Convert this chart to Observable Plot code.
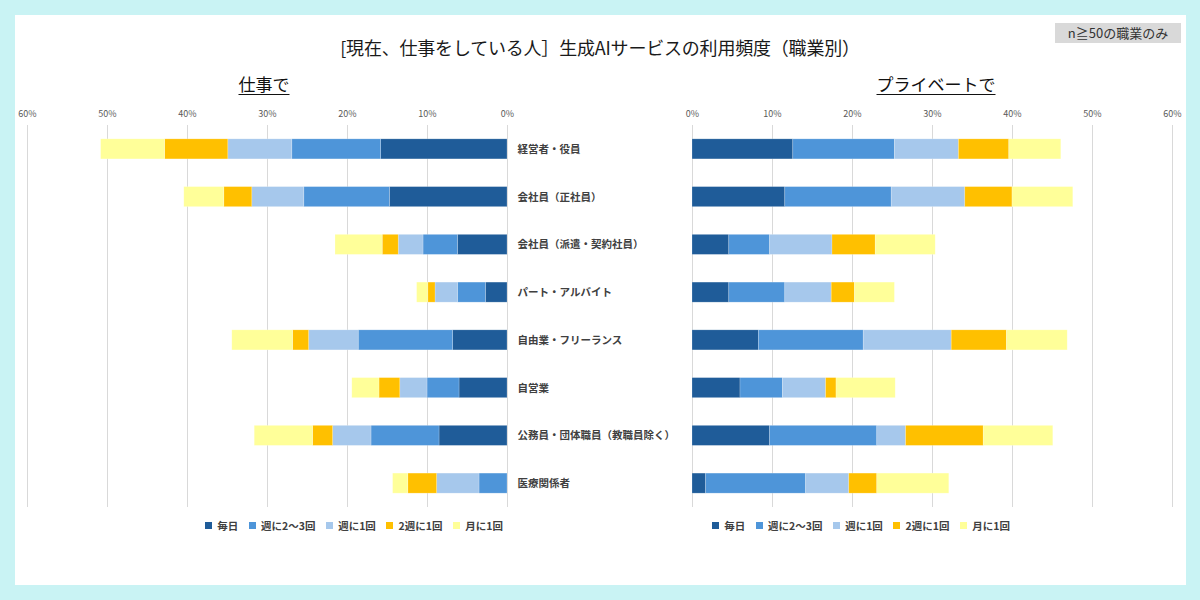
<!DOCTYPE html>
<html>
<head>
<meta charset="utf-8">
<script src="https://cdn.jsdelivr.net/npm/d3@7"></script>
<script src="https://cdn.jsdelivr.net/npm/@observablehq/plot@0.6"></script>
<style>
  html, body { margin: 0; padding: 0; background: #c9f3f4; }
  #page { position: relative; width: 1200px; height: 600px; background: #c9f3f4; overflow: hidden;
          font-family: "Noto Sans CJK JP", "Noto Sans", sans-serif; }
  #panel { position: absolute; left: 15px; top: 15px; width: 1171px; height: 570px; background: #fff; }
  .abs { position: absolute; }
  #title { left: 0; width: 1200px; top: 34px; text-align: center; font-size: 18px; color: #1a1a1a; letter-spacing: -0.2px; }
  #note { left: 1055px; top: 23px; width: 126px; height: 20px; background: #d9d9d9; color: #333;
          font-size: 13px; line-height: 20px; text-align: center; }
  .sub { font-size: 17px; color: #111; text-decoration: underline; text-underline-offset: 3px; top: 71px; transform: translateX(-50%); white-space: nowrap; }
  .plot-layer { position: absolute; left: 0; top: 0; }
  .leg { position: absolute; top: 509px; }
</style>
</head>
<body>
<div id="page">
  <div id="panel"></div>
  <div id="title" class="abs">[現在、仕事をしている人］生成AIサービスの利用頻度（職業別）</div>
  <div id="note" class="abs">n≧50の職業のみ</div>
  <div class="abs sub" style="left:264px">仕事で</div>
  <div class="abs sub" style="left:936px">プライベートで</div>
</div>
<script>
// ---- data ----
const categories = ["経営者・役員", "会社員（正社員）", "会社員（派遣・契約社員）", "パート・アルバイト",
  "自由業・フリーランス", "自営業", "公務員・団体職員（教職員除く）", "医療関係者"];
const frequencies = ["毎日", "週に2〜3回", "週に1回", "2週に1回", "月に1回"];
const colors = ["#1f5c99", "#4e95d9", "#a6c8ec", "#ffc000", "#ffff99"];
const xTicks = [0, 10, 20, 30, 40, 50, 60];

// 仕事で (%), one array per frequency, in category order
const work_daily   = [15.8, 14.7, 6.2, 2.7, 6.8, 6.0, 8.5, 0.0];
const work_2to3wk  = [11.1, 10.7, 4.3, 3.5, 11.8, 4.0, 8.5, 3.5];
const work_1wk     = [8.0, 6.5, 3.1, 2.8, 6.2, 3.4, 4.8, 5.3];
const work_2wk     = [7.9, 3.5, 2.0, 0.9, 2.0, 2.6, 2.5, 3.6];
const work_1mo     = [8.0, 5.0, 5.9, 1.4, 7.6, 3.4, 7.3, 1.9];

// プライベートで (%)
const priv_daily   = [12.6, 11.6, 4.6, 4.6, 8.3, 6.0, 9.7, 1.7];
const priv_2to3wk  = [12.7, 13.3, 5.1, 7.0, 13.1, 5.3, 13.4, 12.5];
const priv_1wk     = [8.0, 9.2, 7.8, 5.8, 11.0, 5.4, 3.6, 5.4];
const priv_2wk     = [6.3, 5.9, 5.4, 2.9, 6.9, 1.3, 9.7, 3.5];
const priv_1mo     = [6.5, 7.6, 7.5, 5.0, 7.6, 7.4, 8.7, 9.0];

function toRows(series) {
  const rows = [];
  categories.forEach((c, i) => {
    series.forEach((s, j) => rows.push({category: c, freq: frequencies[j], value: s[i]}));
  });
  return rows;
}
const workRows = toRows([work_daily, work_2to3wk, work_1wk, work_2wk, work_1mo]);
const privRows = toRows([priv_daily, priv_2to3wk, priv_1wk, priv_2wk, priv_1mo]);

const font = '"Noto Sans CJK JP", "Noto Sans", sans-serif';

function makeChart(rows, side) {
  const left = side === "left";
  return Plot.plot({
    width: 1200,
    height: 600,
    marginTop: 125,
    marginBottom: 93,
    marginLeft: left ? 27 : 692,
    marginRight: left ? 693 : 28,
    style: {background: "transparent", fontFamily: font, overflow: "visible"},
    x: {domain: [0, 60], reverse: left, axis: null},
    y: {domain: categories, axis: null, paddingInner: 0.58, paddingOuter: 0.29, round: false},
    color: {domain: frequencies, range: colors},
    marks: [
      Plot.gridX(xTicks, {stroke: "#d9d9d9", strokeOpacity: 1, strokeWidth: 1}),
      Plot.axisX({anchor: "top", ticks: xTicks, tickFormat: d => d + "%", tickSize: 0, tickPadding: 9,
                  fontSize: 9, fill: "#595959", label: null}),
      Plot.barX(rows, Plot.stackX({x: "value", y: "category", fill: "freq", order: frequencies,
                  stroke: "#ffffff", strokeOpacity: 0.35, strokeWidth: 0.6})),
      ...(left ? [Plot.text(categories, {x: 0, y: d => d, dx: 10, text: d => d, textAnchor: "start",
                  fontSize: 10.5, fontWeight: "bold", fill: "#404040"})] : [])
    ]
  });
}

const page = document.getElementById("page");
for (const [rows, side] of [[workRows, "left"], [privRows, "right"]]) {
  const chart = makeChart(rows, side);
  chart.classList.add("plot-layer");
  page.appendChild(chart);
  const leg = chart.legend("color", {
    swatchSize: 7,
    style: {fontSize: "10.5px", fontWeight: "bold", color: "#404040", fontFamily: font, background: "transparent"}
  });
  leg.classList.add("leg");
  leg.style.left = (side === "left" ? 205 : 712) + "px";
  page.appendChild(leg);
}
</script>
</body>
</html>
